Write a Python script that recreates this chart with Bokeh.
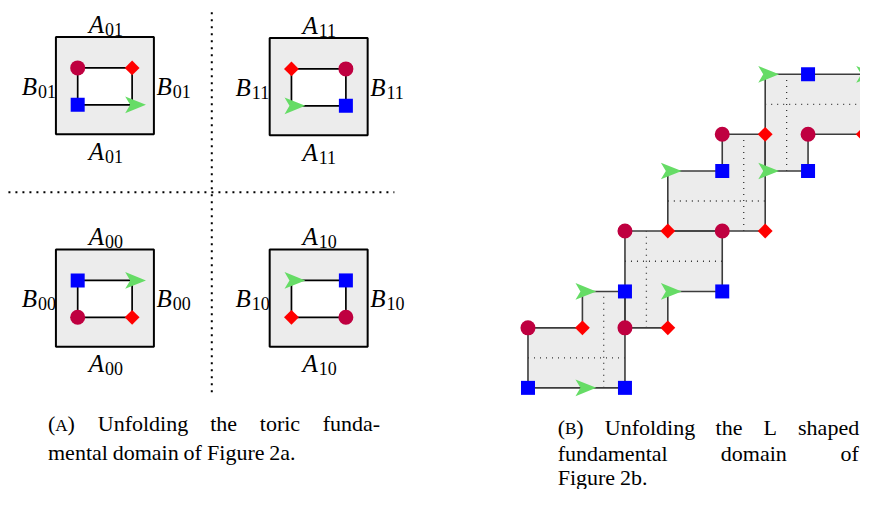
import math
from bokeh.plotting import figure
from bokeh.models import Range1d
from bokeh.embed import file_html
from bokeh.resources import INLINE
from bokeh.core.properties import value

# ---------------- data ----------------
# Panel (A): four toric fundamental domains, index label and corner markers (TL, TR, BL, BR)
SQ_LABELS = ["01", "11", "00", "10"]
SQ_LEFT = [56, 272, 56, 272]
SQ_TOP = [37, 38, 253, 253]
SQ_CORNERS = [
    ["circle", "diamond", "square", "arrow"],
    ["diamond", "circle", "arrow", "square"],
    ["square", "arrow", "circle", "diamond"],
    ["arrow", "square", "diamond", "circle"],
]

# Panel (B): grid of the unfolded L shaped domains
GX = [533, 588, 631, 674.3, 729.3, 772.7, 816, 871.7]
GY = [393.7, 332.7, 295.7, 234.3, 173.3, 136, 75]
L_SHAPES = [
    [(0, 0), (2, 0), (2, 2), (1, 2), (1, 1), (0, 1)],
    [(2, 1), (3, 1), (3, 2), (4, 2), (4, 3), (2, 3)],
    [(3, 3), (5, 3), (5, 5), (4, 5), (4, 4), (3, 4)],
    [(5, 4), (6, 4), (6, 5), (7, 5), (7, 6), (5, 6)],
]
L_HDOT = [(0, 1), (2, 3), (3, 4), (5, 6)]
L_VDOT = [(1, 2), (2, 3), (4, 5), (5, 6)]
B_SQUARES = [(0, 0), (2, 0), (2, 2), (4, 2), (4, 4), (6, 4), (6, 6)]
B_CIRCLES = [(0, 1), (2, 1), (2, 3), (4, 3), (4, 5), (6, 5)]
B_DIAMONDS = [(1, 1), (3, 1), (3, 3), (5, 3), (5, 5), (7, 5)]
B_ARROWS = [(1, 0), (1, 2), (3, 2), (3, 4), (5, 4), (5, 6), (7, 6)]

CAP_A = [["(A)", "Unfolding", "the", "toric", "funda-"],
         ["mental", "domain", "of", "Figure", "2a."]]
CAP_B = [["(B)", "Unfolding", "the", "L", "shaped"],
         ["fundamental", "domain", "of"],
         ["Figure", "2b."]]

# ---------------- style ----------------
C_CIRCLE = "#BF0040"
C_SQUARE = "#0000FF"
C_DIAMOND = "#FF0000"
C_ARROW = "#66DC66"
C_FILL = "#ECECEC"
SERIF = value("Liberation Serif")

p = figure(width=860, height=489, x_range=Range1d(0, 869), y_range=Range1d(497, 0),
           x_axis_type=None, y_axis_type=None, toolbar_location=None,
           output_backend="svg", min_border=0, outline_line_color=None,
           background_fill_color="white")
p.grid.visible = False

def tdy(fs):
    # empirical correction of the rendered baseline position
    return -0.32 * fs

BOX = 99
IN_L, IN_R, IN_T, IN_B = 22, 77, 31.5, 69

markers = {"circle": ([], []), "square": ([], []), "diamond": ([], []), "arrow": ([], [])}

# ---- panel A ----
p.quad(left=SQ_LEFT, right=[x + BOX for x in SQ_LEFT], top=SQ_TOP,
       bottom=[y + BOX for y in SQ_TOP], fill_color=C_FILL, line_color="black", line_width=2)
p.quad(left=[x + IN_L for x in SQ_LEFT], right=[x + IN_R for x in SQ_LEFT],
       top=[y + IN_T for y in SQ_TOP], bottom=[y + IN_B for y in SQ_TOP],
       fill_color="white", line_color="black", line_width=1.7)
for x0, y0, corners in zip(SQ_LEFT, SQ_TOP, SQ_CORNERS):
    pts = [(x0 + IN_L, y0 + IN_T), (x0 + IN_R, y0 + IN_T), (x0 + IN_L, y0 + IN_B), (x0 + IN_R, y0 + IN_B)]
    for kind, (cx, cy) in zip(corners, pts):
        markers[kind][0].append(cx)
        markers[kind][1].append(cy)

# separating dotted lines
p.line(x=[213.5, 213.5], y=[12, 402], line_color="black", line_width=2, line_dash="2 5")
p.line(x=[8, 398], y=[195, 195], line_color="black", line_width=2, line_dash="2 5")

# labels
LFS, SFS = 25, 18
def sublabel(xj, yb, letter, sub):
    # xj: junction between letter and subscript
    p.text(x=[xj], y=[yb + tdy(LFS)], text=[letter], text_font=SERIF, text_font_style="italic",
           text_font_size=f"{LFS}px", text_align="right", text_baseline="alphabetic", text_color="black")
    p.text(x=[xj + 1], y=[yb + 3 + tdy(SFS)], text=[sub], text_font=SERIF, text_font_size=f"{SFS}px",
           text_align="left", text_baseline="alphabetic", text_color="black")

for lab, x0, y0 in zip(SQ_LABELS, SQ_LEFT, SQ_TOP):
    cx = x0 + BOX / 2
    cy = y0 + BOX / 2
    sublabel(cx - 1, y0 - 5, "A", lab)
    sublabel(cx - 1, y0 + BOX + 25, "A", lab)
    sublabel(x0 - 19, cy + 8.5, "B", lab)
    sublabel(x0 + BOX + 18, cy + 8.5, "B", lab)

# ---- panel B ----
xs = [[GX[i] for i, j in L] for L in L_SHAPES]
ys = [[GY[j] for i, j in L] for L in L_SHAPES]
p.patches(xs=xs, ys=ys, fill_color=C_FILL, line_color=None)
for L, (h0, h1), (v0, v1) in zip(L_SHAPES, L_HDOT, L_VDOT):
    xi = [i for i, j in L]
    yj = [j for i, j in L]
    hy = (GY[h0] + GY[h1]) / 2
    vx = (GX[v0] + GX[v1]) / 2
    p.line(x=[GX[min(xi)], GX[max(xi)]], y=[hy, hy], line_color="#333333", line_width=1.3, line_dash="1 5")
    p.line(x=[vx, vx], y=[GY[min(yj)], GY[max(yj)]], line_color="#333333", line_width=1.3, line_dash="1 5")
p.multi_line(xs=[x + [x[0]] for x in xs], ys=[y + [y[0]] for y in ys], line_color="#3c3c3c", line_width=1.6)

for kind, lst in (("square", B_SQUARES), ("circle", B_CIRCLES), ("diamond", B_DIAMONDS), ("arrow", B_ARROWS)):
    for i, j in lst:
        markers[kind][0].append(GX[i])
        markers[kind][1].append(GY[j])

# ---- markers ----
ax, ay = markers["arrow"]
p.patches(xs=[[x + 14, x - 7, x - 2, x - 7] for x in ax], ys=[[y, y - 8.5, y, y + 8.5] for y in ay],
          fill_color=C_ARROW, line_color=None)
p.scatter(x=markers["circle"][0], y=markers["circle"][1], marker="circle", size=15,
          fill_color=C_CIRCLE, line_color=None)
p.scatter(x=markers["square"][0], y=markers["square"][1], marker="square", size=14,
          fill_color=C_SQUARE, line_color=None)
p.scatter(x=markers["diamond"][0], y=markers["diamond"][1], marker="square", size=10.5,
          angle=math.pi / 4, fill_color=C_DIAMOND, line_color=None)

# ---- captions ----
TW = {'a': 444, 'b': 500, 'c': 444, 'd': 500, 'e': 444, 'f': 333, 'g': 500, 'h': 500, 'i': 278,
      'l': 278, 'm': 778, 'n': 500, 'o': 500, 'p': 500, 'r': 333, 's': 389, 't': 278, 'u': 500,
      'U': 722, 'L': 611, 'F': 556, 'A': 722, 'B': 667, '(': 333, ')': 333, '-': 333, '.': 250,
      '2': 500, ' ': 250}
FS = 22
SC = 0.78

def wwidth(w):
    if w.startswith("(") and len(w) == 3:
        return (TW['('] + TW[')'] + TW[w[1]] * SC) * FS / 1000
    return sum(TW.get(ch, 500) for ch in w) * FS / 1000

def put_word(x, yb, w):
    kw = dict(text_font=SERIF, text_align="left", text_baseline="alphabetic", text_color="black")
    if w.startswith("(") and len(w) == 3:
        p.text(x=[x], y=[yb + tdy(FS)], text=["("], text_font_size=f"{FS}px", **kw)
        x1 = x + TW['('] * FS / 1000
        p.text(x=[x1], y=[yb + tdy(FS * SC)], text=[w[1]], text_font_size=f"{FS * SC:.1f}px", **kw)
        x2 = x1 + TW[w[1]] * SC * FS / 1000
        p.text(x=[x2], y=[yb + tdy(FS)], text=[")"], text_font_size=f"{FS}px", **kw)
    else:
        p.text(x=[x], y=[yb + tdy(FS)], text=[w], text_font_size=f"{FS}px", **kw)

def put_line(words, x0, x1, yb, justify):
    widths = [wwidth(w) for w in words]
    if justify and len(words) > 1:
        gap = (x1 - x0 - sum(widths)) / (len(words) - 1)
    else:
        gap = TW[' '] * FS / 1000
    x = x0
    for w, wd in zip(words, widths):
        put_word(x, yb, w)
        x += wd + gap

put_line(CAP_A[0], 48, 383, 437, True)
put_line(CAP_A[1], 48, 383, 466, False)
put_line(CAP_B[0], 563, 867, 441, True)
put_line(CAP_B[1], 563, 867, 467, True)
put_line(CAP_B[2], 563, 867, 492, False)

open("out.html", "w").write(file_html(p, INLINE))
